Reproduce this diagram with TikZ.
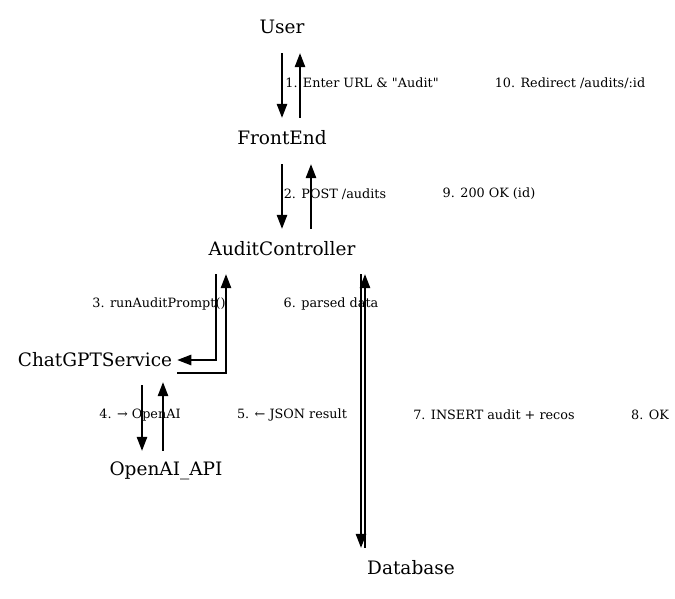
\documentclass[tikz,border=0pt]{standalone}
\usepackage{fontspec}
\setmainfont{DejaVu Serif}[Ligatures=TeXOff]
\usetikzlibrary{arrows.meta,calc}
\tikzset{
  nm/.style={inner sep=0pt, minimum height=40pt, font=\fontsize{18.5}{20}\selectfont},
  lbl/.style={inner sep=0pt, font=\fontsize{12.8}{14}\selectfont},
  arr/.style={-{Triangle[length=14pt,width=10.5pt]}, line width=1.2pt},
}
\begin{document}
\begin{tikzpicture}[x=1pt,y=-1pt]
\useasboundingbox (0,0) rectangle (675,599);
\node[nm] (user) at (282,27) {User};
\node[nm] (front) at (282,138) {FrontEnd};
\node[nm] (ac) at (282,249) {AuditController};
\node[nm] (chat) at (95,360) {ChatGPTService};
\node[nm] (oai) at (166,471) {OpenAI\_API};
\node[nm] (db) at (411,568) {Database};

\node[lbl] (l1) at (362,83) {1. Enter URL \& "Audit"};
\node[lbl] (l10) at (570,83) {10. Redirect /audits/:id};
\node[lbl] (l2) at (335,194) {2. POST /audits};
\node[lbl] (l9) at (489,194) {9. 200 OK (id)};
\node[lbl] (l3) at (159,304) {3. runAuditPrompt()};
\node[lbl] (l6) at (331,304) {6. parsed data};
\node[lbl] (l4) at (140,415) {4. → OpenAI};
\node[lbl] (l5) at (292,415) {5. ← JSON result};
\node[lbl] (l7) at (494,415) {7. INSERT audit + recos};
\node[lbl] (l8) at (650,415) {8. OK};

\draw[arr, shorten <=6pt] (user.south) -- (front.north);
\draw[arr, shorten >=6pt] ([xshift=18pt]front.north) -- ([xshift=18pt]user.south);
\draw[arr, shorten <=6pt] (ac.north |- front.south) -- (ac.north);
\draw[arr, shorten >=6pt] ([xshift=29pt]ac.north) -- ([xshift=29pt]front.south);
\draw[arr, shorten <=5pt, shorten >=5pt] ([xshift=-66pt]ac.south) |- (chat.east);
\draw[arr, shorten <=5pt, shorten >=5pt] ([yshift=-13pt]chat.east) -| ([xshift=-56pt]ac.south);
\draw[arr, shorten <=5pt] ([xshift=47pt]chat.south) -- ([xshift=47pt]chat.south |- oai.north);
\draw[arr, shorten >=2pt] ([xshift=68pt]chat.south |- oai.north) -- ([xshift=68pt]chat.south);
\draw[arr, shorten <=5pt] ([xshift=-50pt]db.north |- ac.south) -- ([xshift=-50pt]db.north);
\draw[arr, shorten >=5pt] ([xshift=-46pt]db.north) -- ([xshift=-46pt]db.north |- ac.south);
\end{tikzpicture}
\end{document}
